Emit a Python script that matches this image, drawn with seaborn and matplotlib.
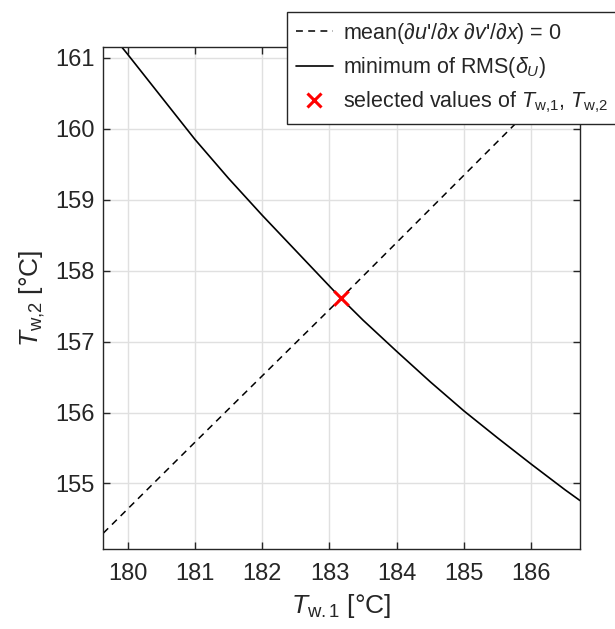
import matplotlib
matplotlib.use("Agg")
import matplotlib.pyplot as plt
from matplotlib.lines import Line2D
import pandas as pd
import seaborn as sns

# Wall temperatures [°C]: line where mean(du'/dx dv'/dx) vanishes
zero_corr_tw1 = [179.64, 181.00, 183.17, 185.72, 186.72]
zero_corr_tw2 = [154.30, 155.58, 157.61, 160.03, 160.97]

# Wall temperatures [°C]: minimum of RMS(delta_U)
min_rms_tw1 = [179.91, 180.00, 180.50, 181.00, 181.50, 182.00, 182.50,
               183.00, 183.17, 183.50, 184.00, 184.50, 185.00, 185.50,
               186.00, 186.50, 186.72]
min_rms_tw2 = [161.155, 161.05, 160.45, 159.85, 159.30, 158.78, 158.28,
               157.78, 157.61, 157.30, 156.86, 156.43, 156.02, 155.64,
               155.27, 154.91, 154.76]

# Chosen operating point
sel_tw1 = [183.17]
sel_tw2 = [157.61]

x_ticks = [180, 181, 182, 183, 184, 185, 186]
y_ticks = [155, 156, 157, 158, 159, 160, 161]

sns.set_style("ticks")
plt.rcParams["font.family"] = ["Liberation Sans", "DejaVu Sans"]
plt.rcParams["mathtext.fontset"] = "custom"
plt.rcParams["mathtext.rm"] = "Liberation Sans"
plt.rcParams["mathtext.it"] = "Liberation Sans:italic"
plt.rcParams["mathtext.bf"] = "Liberation Sans:bold"

fig = plt.figure(figsize=(6.15, 6.29), dpi=100)
ax = fig.add_axes([0.1675, 0.1264, 0.7755, 0.7994])

zero_df = pd.DataFrame({"tw1": zero_corr_tw1, "tw2": zero_corr_tw2})
rms_df = pd.DataFrame({"tw1": min_rms_tw1, "tw2": min_rms_tw2})
sel_df = pd.DataFrame({"tw1": sel_tw1, "tw2": sel_tw2})

sns.lineplot(data=zero_df, x="tw1", y="tw2", sort=False, ax=ax,
             color="black", linewidth=1.1)
ax.lines[-1].set_dashes([4.5, 3.5])
sns.lineplot(data=rms_df, x="tw1", y="tw2", sort=False, ax=ax,
             color="black", linewidth=1.2)
sns.scatterplot(data=sel_df, x="tw1", y="tw2", ax=ax, marker="x",
                color="red", s=110, linewidth=2.2, zorder=5)

ax.set_xlim(179.636, 186.72)
ax.set_ylim(154.07, 161.155)
ax.set_xticks(x_ticks)
ax.set_yticks(y_ticks)
ax.set_xticklabels([str(t) for t in x_ticks])
ax.set_yticklabels([str(t) for t in y_ticks])
ax.grid(True, color="#e0e0e0", linewidth=1.0)
ax.set_axisbelow(True)
ax.tick_params(direction="in", length=5, width=1, top=True, right=True,
               labelsize=17, colors="#262626")
ax.tick_params(axis="x", pad=10)
ax.tick_params(axis="y", pad=6)
for sp in ax.spines.values():
    sp.set_color("#262626")
    sp.set_linewidth(1.0)

ax.set_xlabel(r"$T_{\mathrm{w{.}1}}$ [°C]", fontsize=19, labelpad=5)
ax.set_ylabel(r"$T_{\mathrm{w{,}2}}$ [°C]", fontsize=19, labelpad=6)

handles = [
    Line2D([], [], color="black", linewidth=1.1, dashes=[4.5, 3.5]),
    Line2D([], [], color="black", linewidth=1.2),
    Line2D([], [], color="red", marker="x", linestyle="none",
           markersize=10, markeredgewidth=2.2),
]
labels = [
    r"mean($\partial u$'/$\partial x$ $\partial v$'/$\partial x$) = 0",
    r"minimum of RMS($\delta_{U}$)",
    r"selected values of $T_{\mathrm{w{,}1}}$, $T_{\mathrm{w{,}2}}$",
]
leg = fig.legend(handles, labels, loc="upper left",
                 bbox_to_anchor=(287 / 615, 1 - 12 / 629),
                 bbox_transform=fig.transFigure,
                 fontsize=15.5, frameon=True, fancybox=False,
                 framealpha=1, edgecolor="#262626", handlelength=1.75,
                 handletextpad=0.45, borderpad=0.4, labelspacing=0.45,
                 borderaxespad=0)
leg.get_frame().set_linewidth(1.0)

fig.savefig("out.png", dpi=100)
